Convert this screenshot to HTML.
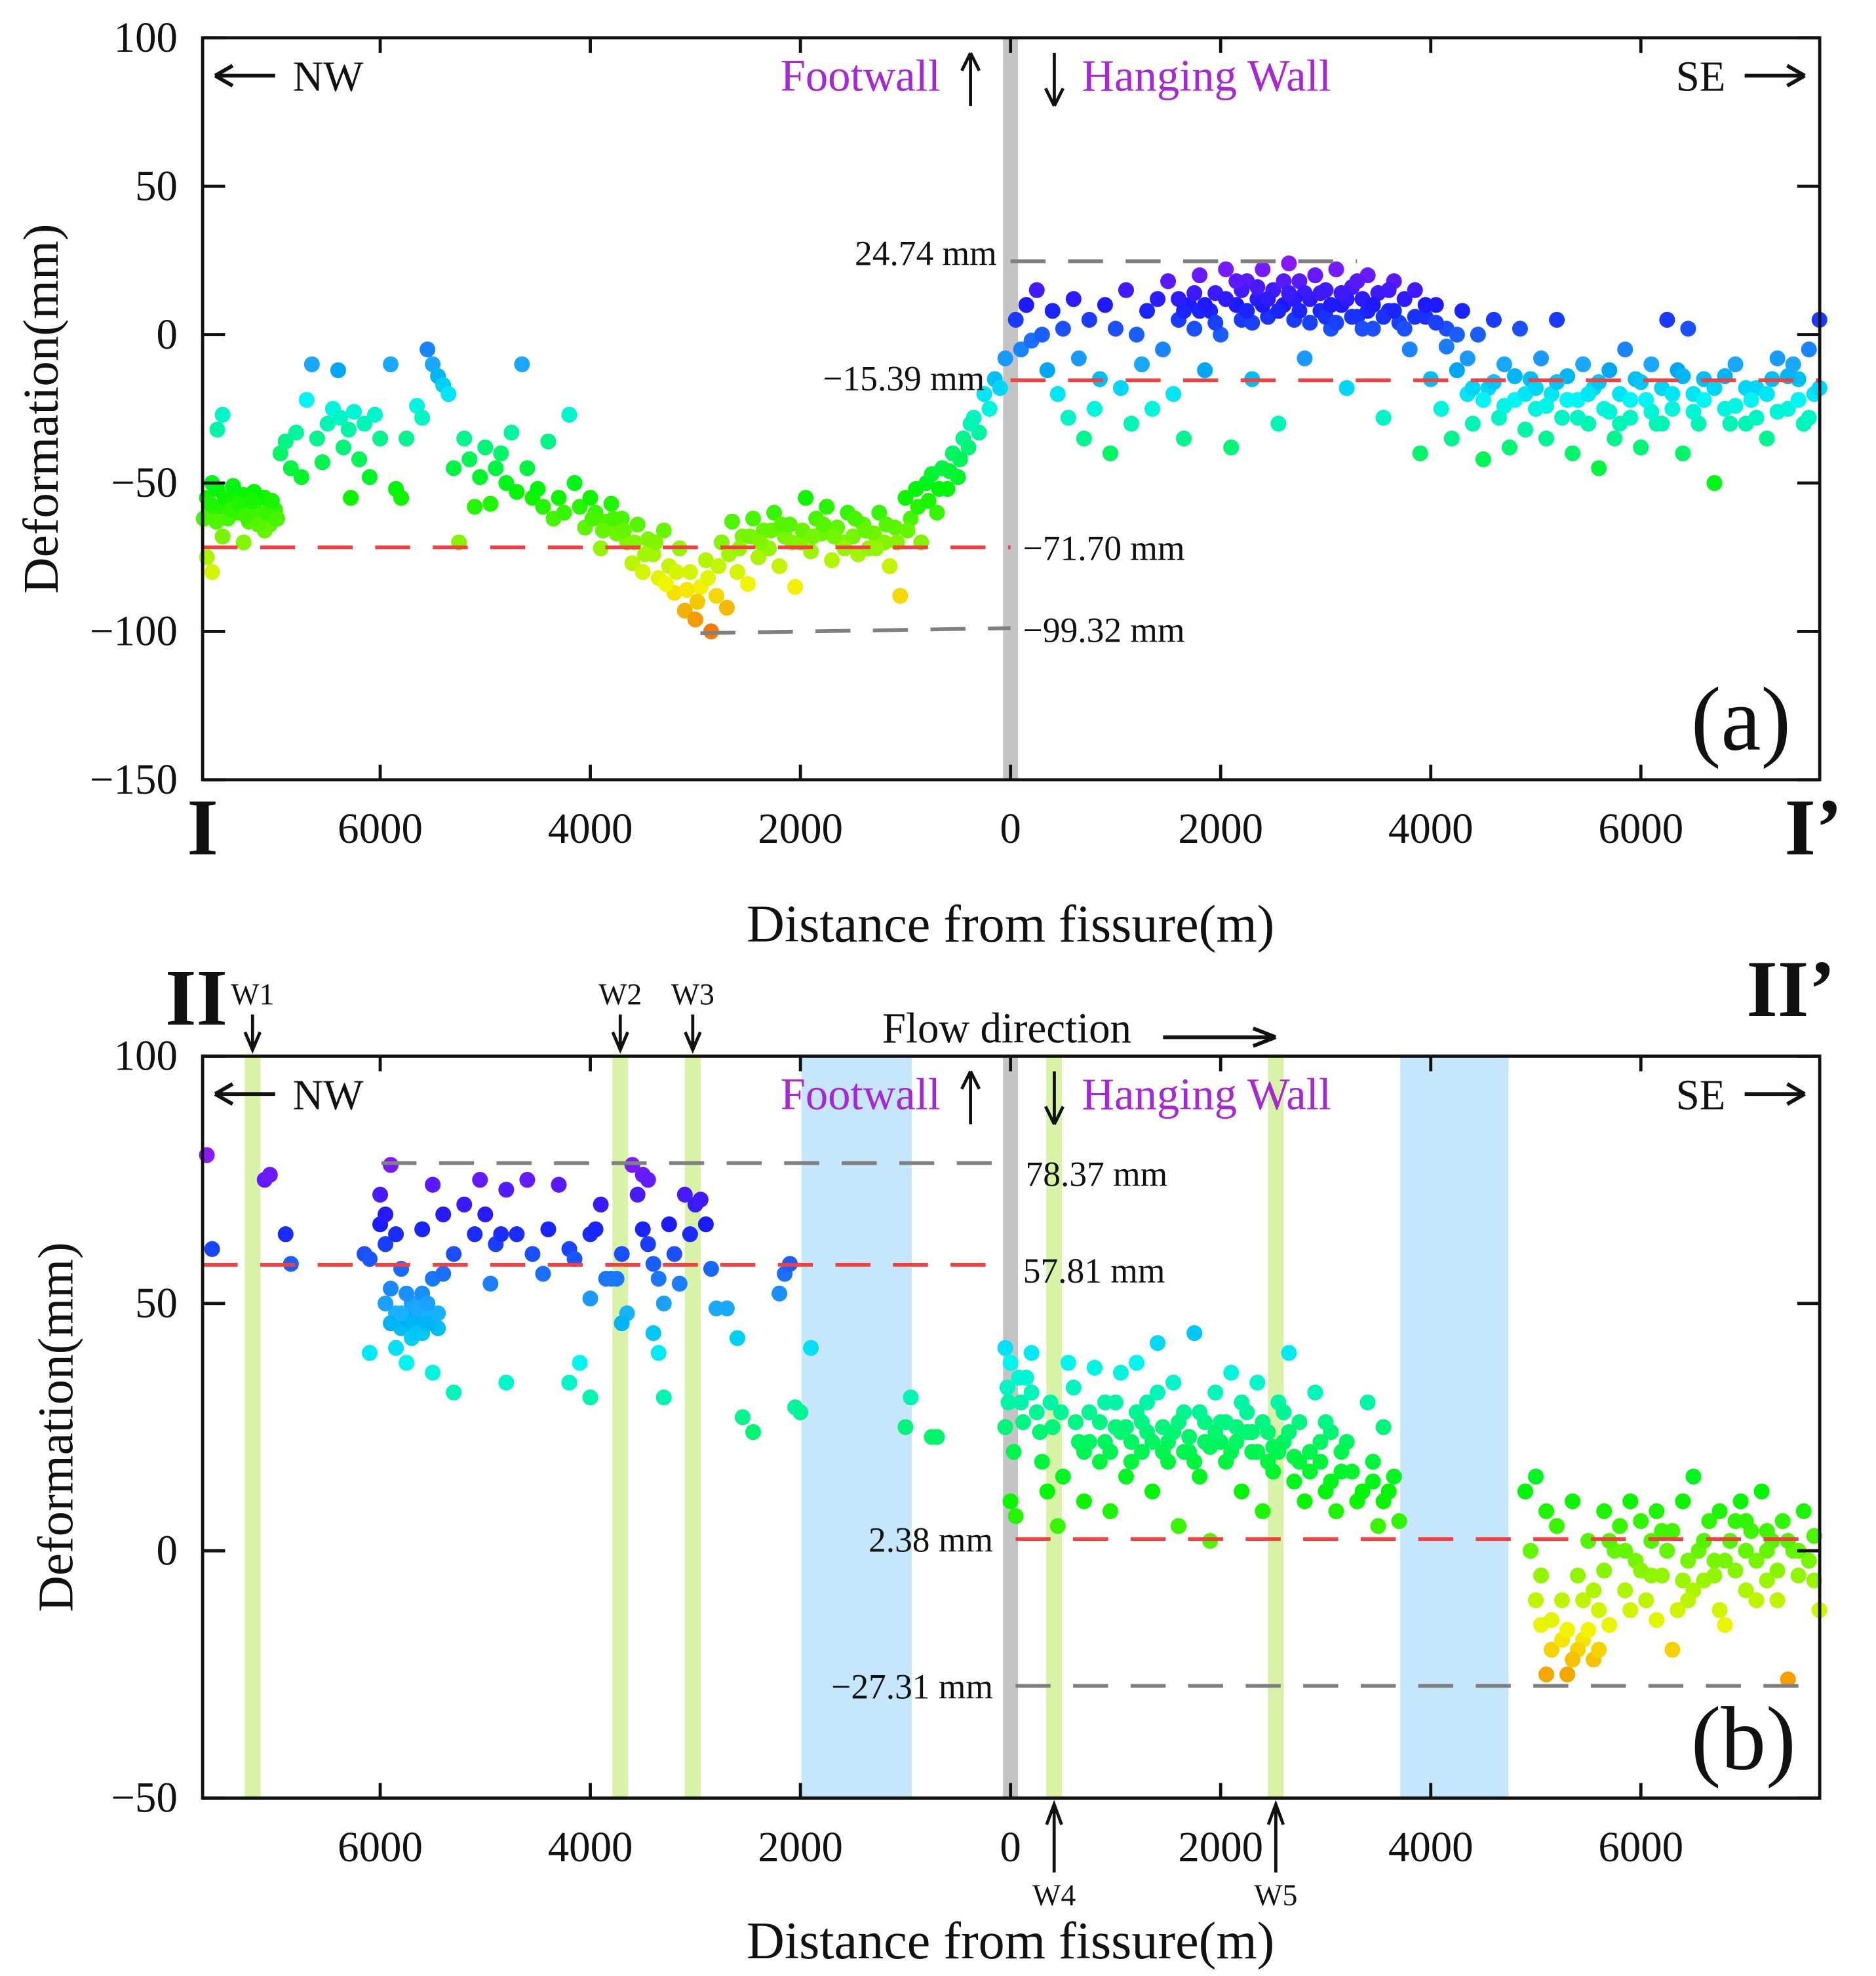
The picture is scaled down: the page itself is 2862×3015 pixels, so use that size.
<!DOCTYPE html>
<html><head><meta charset="utf-8"><style>
html,body{margin:0;padding:0;background:#fff}
svg{display:block}
text{font-family:"Liberation Serif",serif;fill:#111}
</style></head><body>
<svg id="fig" width="2862" height="3015" viewBox="0 0 1500 1566" preserveAspectRatio="none" xmlns="http://www.w3.org/2000/svg">
<g id="pa"></g>
<g id="pb"></g>
</svg>
<script>
// ---- data ----
const xTicks = [-6000,-4000,-2000,0,2000,4000,6000];
const xTickLabels = ["6000","4000","2000","0","2000","4000","6000"];
const yTicksA = [100,50,0,-50,-100,-150];
const yTicksB = [100,50,0,-50];
const refA = {gray1:24.74, red1:-15.39, red2:-71.70, gray2:-99.32};
const refB = {gray1:78.37, red1:57.81, red2:2.38, gray2:-27.31};
const greenBands = [[-7290,-7140],[-3790,-3640],[-3100,-2950],[340,490],[2450,2600]];
const blueBands = [[-1990,-940],[3710,4740]];
const ptsA = [[-7650,-55],[-7600,-60],[-7550,-52],[-7500,-58],[-7450,-62],[-7400,-56],[-7350,-60],[-7300,-54],[-7250,-63],[-7200,-58],[-7150,-61],[-7100,-55],[-7050,-64],[-7000,-59],[-7600,-50],[-7400,-51],[-7200,-53],[-7650,-75],[-7600,-80],[-7500,-68],[-7300,-70],[-7500,-27],[-7550,-32],[-7100,-66],
[-6950,-40],[-6900,-36],[-6850,-45],[-6800,-33],[-6750,-48],[-6700,-22],[-6650,-10],[-6600,-35],[-6550,-43],[-6500,-30],[-6450,-25],[-6400,-12],[-6380,-28],[-6350,-38],[-6300,-32],[-6280,-55],[-6250,-26],[-6200,-42],[-6150,-30],[-6100,-48],[-6050,-27],[-6000,-35],[-5900,-10],[-5850,-52],[-5800,-55],[-5750,-35],[-5650,-24],[-5600,-28],[-5550,-5],[-5500,-10],[-5450,-14],[-5400,-17],[-5350,-20],[-5300,-45],[-5250,-70],[-5200,-35],[-5150,-42],[-5100,-58],[-5050,-48],[-5000,-38],[-4950,-57],[-4900,-45],[-4850,-40],[-4800,-50],[-4750,-33],[-4700,-53],[-4650,-10],[-4600,-45],[-4550,-55],[-4500,-52],[-4450,-58],[-4400,-36],[-4350,-62],[-4300,-55],[-4250,-60],[-4200,-27],[-4150,-50],[-4100,-58],[-4050,-65],[-4000,-55],[-3950,-60],[-3900,-72],[-3850,-63],[-3800,-57],[-3750,-67],[-3700,-62],[-3650,-70],[-3600,-77],[-3550,-64],[-3500,-80],[-3450,-69],[-3400,-74],[-3350,-82],[-3300,-66],[-3250,-78],[-3200,-87],[-3150,-72],[-3100,-93],[-3050,-80],[-3000,-96],[-2950,-85],[-2900,-76],[-2850,-100],[-2800,-88],[-2750,-70],[-2700,-92],[-2650,-63],[-2600,-80],[-2550,-68],[-2500,-84],[-2450,-62],[-2400,-75],[-2350,-66],[-2300,-72],[-2250,-60],[-2200,-78],[-2150,-68],[-2100,-64],[-2050,-85],[-2000,-70],[-1950,-55],[-1900,-73],[-1850,-62],[-1800,-67],[-1750,-58],[-1700,-76],[-1650,-65],[-1600,-70],[-1550,-60],[-1500,-68],[-1450,-74],[-1400,-64],[-1350,-72],[-1300,-67],[-1250,-60],[-1200,-70],[-1150,-78],[-1100,-65],[-1050,-88],[-1000,-55],[-950,-62],[-900,-52],[-850,-70],[-800,-50],[-750,-47],[-700,-60],[-650,-45],[-600,-52],[-550,-40],[-500,-48],[-450,-35],[-400,-38],[-350,-28],[-300,-33],[-250,-20],[-200,-25],[-150,-15],[-100,-18],[-50,-8],
[50,5],[100,-5],[150,10],[200,-2],[250,15],[300,0],[350,-12],[400,8],[450,-20],[500,2],[550,-28],[600,12],[650,-8],[700,-35],[750,5],[800,-25],[850,-15],[900,10],[950,-40],[1000,2],[1050,-18],[1100,15],[1150,-30],[1200,0],[1250,-10],[1300,8],[1350,-25],[1400,12],[1450,-5],[1500,18],[1550,-20],[1600,5],[1650,-35],[1700,10],[1750,2],[1800,20],[1850,-12],[1900,8],[1950,14],[2000,0],[2050,22],[2100,-38],[2150,10],[2200,5],[2250,18],[2300,-15],[2350,12],[2400,22],[2450,6],[2500,15],[2550,-30],[2600,10],[2650,24],[2700,5],[2750,18],[2800,-8],[2850,12],[2900,20],[2950,8],[3000,15],[3050,2],[3100,22],[3150,10],[3200,-18],[3250,16],[3300,6],[3350,12],[3400,20],[3450,2],[3500,14],[3550,-28],[3600,8],[3650,18],[3700,4],[3750,12],[3800,-5],[3850,15],[3900,-40],[3950,6],[4000,-15],[4050,10],[4100,-25],[4150,2],[4200,-35],[4250,-12],[4300,8],[4350,-20],[4400,-30],[4450,0],[4500,-42],[4550,-18],[4600,5],[4650,-28],[4700,-10],[4750,-38],[4800,-22],[4850,2],[4900,-32],[4950,-15],[5000,-25],[5050,-8],[5100,-35],[5150,-20],[5200,5],[5250,-28],[5300,-14],[5350,-40],[5400,-22],[5450,-10],[5500,-30],[5550,-18],[5600,-45],[5650,-25],[5700,-12],[5750,-35],[5800,-20],[5850,-5],[5900,-28],[5950,-15],[6000,-38],[6050,-22],[6100,-10],[6150,-30],[6200,-18],[6250,5],[6300,-25],[6350,-12],[6400,-40],[6450,2],[6500,-20],[6550,-30],[6600,-15],[6700,-50],[6800,-25],[6900,-10],[7000,-30],[7100,-18],[7200,-35],[7300,-8],[7400,-25],[7500,-15],[7550,-30],[7600,-5],[7650,-20],[7700,5],
[1600,12],[1800,8],[2200,15],[2400,10],[2600,18],[2800,14],[3000,6],[3200,12],[3400,8],[3600,15],[2300,4],[2700,12],[3100,4],[3300,18],
[-7680,-62],[-7620,-57],[-7560,-63],[-7480,-55],[-7420,-59],[-7340,-57],[-7280,-61],[-7220,-56],[-7160,-64],[-7080,-60],[-7030,-56],[-6980,-62],
[-3980,-62],[-3880,-66],[-3780,-62],[-3680,-66],[-3580,-70],[-3480,-74],[-3380,-70],[-3280,-84],[-3180,-80],[-3080,-86],[-2980,-90],[-2880,-82],[-2780,-78],[-2680,-74],[-2580,-72],[-2480,-68],[-2380,-70],[-2280,-66],[-2180,-64],[-2080,-70],[-1980,-66],[-1880,-68],[-1780,-64],[-1680,-68],[-1580,-72],[-1480,-62],[-1380,-66],[-1280,-72],[-1180,-64],[-1080,-70],[-980,-66],[-880,-58],[-780,-56],[-680,-52],[-580,-46],[-480,-42],[-380,-30],
[1650,8],[1750,14],[1850,10],[1950,4],[2050,12],[2150,18],[2250,8],[2350,16],[2450,12],[2550,8],[2650,14],[2750,8],[2850,4],[2950,14],[3050,10],[3150,14],[3250,6],[3350,2],[3450,10],[3550,6],[3650,8],[3750,2],[3850,6],[3950,10],[4050,4],[4150,-4],[4250,0],[4350,-8],
[4400,-18],[4500,-22],[4600,-16],[4700,-24],[4800,-14],[4900,-20],[5000,-18],[5100,-24],[5200,-16],[5300,-22],[5400,-28],[5500,-20],[5600,-16],[5700,-26],[5800,-30],[5900,-22],[6000,-16],[6100,-26],[6200,-30],[6300,-20],[6400,-14],[6500,-26],[6600,-22],[6700,-18],[6800,-14],[6900,-24],[7000,-18],[7100,-28],[7200,-20],[7300,-26],[7400,-14],[7500,-22],[7600,-28],[7700,-18],[7450,-10],[7250,-15],[7050,-22],[6850,-30]];
const ptsB = [[-7650,80],[-7600,61],[-7100,75],[-7050,76],[-6900,64],[-6850,58],[-6150,60],[-6100,59],[-6000,72],[-6000,66],[-5950,68],[-5950,62],[-5900,78],[-5900,53],[-5850,64],[-5800,57],[-5850,48],[-5800,45],[-5750,47],[-5700,43],[-5650,46],[-5600,44],[-5550,48],[-5500,46],[-5450,45],[-5700,50],[-5600,52],[-5500,55],[-5400,56],[-6100,40],[-5850,41],[-5750,38],[-5500,36],[-5300,32],[-5600,65],[-5500,74],[-5400,68],[-5300,60],[-5200,70],[-5100,64],[-5050,75],[-5000,68],[-4950,54],[-4900,62],[-4850,64],[-4800,73],[-4700,64],[-4600,75],[-4550,60],[-4450,56],[-4400,65],[-4300,74],[-4200,61],[-4150,59],[-4000,51],[-4000,64],[-3950,65],[-3900,70],[-3850,55],[-3800,55],[-3750,55],[-3700,60],[-3650,48],[-3600,78],[-3550,72],[-3500,76],[-3450,75],[-3500,65],[-3450,62],[-3400,58],[-3350,55],[-3300,50],[-3250,66],[-3200,60],[-3150,54],[-3100,72],[-3050,64],[-3000,70],[-2950,71],[-2900,66],[-2850,57],[-3700,46],[-3400,44],[-3350,40],[-3300,31],[-4100,38],[-4200,34],[-4800,34],[-4000,31],[-2800,49],[-2700,49],[-2600,43],[-2550,27],[-2450,24],[-2200,52],[-2150,56],[-2100,58],[-2050,29],[-2000,28],[-1900,41],[-950,31],[-1000,25],[-750,23],[-700,23],
[-5900,46],[-5800,48],[-5700,46],[-5650,44],[-5550,46],[-5450,48],[-5950,50],[-5750,52],[-5650,49],[-5550,50],
[-50,41],[0,38],[-50,25],[0,10],[50,7],[100,30],[150,35],[200,40],[250,28],[300,18],[350,12],[400,25],[450,5],[500,15],[550,38],[600,33],[650,22],[700,10],[750,28],[800,37],[850,18],[900,30],[950,8],[1000,25],[1050,36],[1100,15],[1150,22],[1200,38],[1250,20],[1300,30],[1350,12],[1400,42],[1450,25],[1500,18],[1550,34],[1600,5],[1650,28],[1700,20],[1750,44],[1800,15],[1850,26],[1900,2],[1950,32],[2000,22],[2050,18],[2100,36],[2150,25],[2200,12],[2250,28],[2300,20],[2350,34],[2400,8],[2450,24],[2500,16],[2550,30],[2600,22],[2650,40],[2700,14],[2750,26],[2800,10],[2850,20],[2900,32],[2950,18],[3000,12],[3050,24],[3100,8],[3150,16],[3200,22],[3300,10],[3400,30],[3450,18],[3500,5],[3550,25],[3600,12],[3650,15],[3700,6],
[700,20],[900,22],[1100,25],[1300,24],[1500,22],[1700,23],[1900,21],[2100,20],[2300,24],[2500,21],[2700,19],[1200,28],[1600,26],[2000,26],[2400,26],
[-30,33],[-20,30],[30,20],[80,35],[120,26],[200,32],[280,24],[380,30],[480,28],[620,26],[750,22],[850,26],[950,20],[1050,24],[1150,18],[1250,26],[1350,22],[1450,20],[1550,24],[1650,20],[1750,18],[1850,22],[1950,24],[2050,26],[2150,22],[2250,24],[2350,20],[2450,18],[2550,20],[2650,24],[2750,18],[2850,16],[2950,22],[3050,14],[3150,20],[3250,16],[3350,12],[3450,14],[3550,10],[1000,30],[1400,32],[1800,28],[2200,30],[2600,28],[3000,26],
[4900,12],[4950,0],[5000,15],[5050,-15],[5100,8],[5150,-20],[5200,5],[5250,-10],[5300,-25],[5350,10],[5400,-5],[5450,-18],[5500,2],[5550,-22],[5600,-12],[5650,8],[5700,-15],[5750,0],[5800,5],[5850,-8],[5900,10],[5950,-2],[6000,6],[6050,-10],[6100,2],[6150,8],[6200,-5],[6250,0],[6300,4],[6350,-12],[6400,10],[6450,-2],[6500,15],[6550,0],[6600,-6],[6650,6],[6700,-2],[6750,8],[6800,-15],[6850,2],[6900,-4],[6950,10],[7000,-8],[7050,4],[7100,-2],[7150,12],[7200,-6],[7250,2],[7300,-10],[7350,6],[7400,-26],[7450,0],[7500,-5],[7550,8],[7600,-2],[7650,3],[7700,-12],[5100,-25],[5250,-18],[5400,-20],[5600,-20],[5450,-10],[5050,-5],[6300,-20],[6500,-8],[6700,-5],[7000,0],[7200,0],[7400,2],[6900,6],[6100,-5],
[5000,-10],[5150,-14],[5300,-16],[5350,-22],[5500,-16],[5550,-8],[5650,-4],[5700,2],[5850,0],[6000,-4],[6200,4],[6400,-6],[6600,2],[6800,-2],[7000,6],[7200,4],[7300,-4],[7500,0],[7650,-6],[5900,-12],[6150,-14],[6450,-10],[6750,-12],[7100,-10]];

// ---- helpers ----
const NS="http://www.w3.org/2000/svg";
const L=162,R=1455,X0=808,PXM=0.084;
function xs(d){return X0+d*PXM;}
function mk(parent,tag,attrs,txt){const e=document.createElementNS(NS,tag);for(const k in attrs)e.setAttribute(k,attrs[k]);if(txt!==undefined)e.textContent=txt;parent.appendChild(e);return e;}
function color(v,lo,hi){let t=(v-lo)/(hi-lo);t=Math.max(0,Math.min(1,t));const h=30+t*240;return `hsl(${h},100%,${h>200?55:48}%)`;}

function panel(g,top,bot,ymax,ymin,yTicks,pts,ref,cLo,cHi,isB){
  const ys=v=>top+(ymax-v)*(bot-top)/(ymax-ymin);
  if(isB){
    greenBands.forEach(b=>{const r=mk(g,'rect',{x:xs(b[0]),y:top,width:xs(b[1])-xs(b[0]),height:bot-top,fill:'#d8f2a8'});
      
      });
    blueBands.forEach(b=>{const r=mk(g,'rect',{x:xs(b[0]),y:top,width:xs(b[1])-xs(b[0]),height:bot-top,fill:'#c6e6fb'});
      
      });
  }
  const fb=mk(g,'rect',{x:802,y:top,width:12,height:bot-top,fill:'#c4c4c4'});
  
  
  pts.forEach(p=>{const c=mk(g,'circle',{cx:xs(p[0]),cy:ys(p[1]),r:6.3,fill:color(p[1],cLo,cHi)});
    
    });
  function dash(x1,x2,y1,y2,col,name){const l=mk(g,'line',{x1:x1,x2:x2,y1:y1,y2:y2,stroke:col,'stroke-width':3,'stroke-dasharray':'28 18'});
    
    }
  if(!isB){
    dash(X0,1085,ys(ref.gray1),ys(ref.gray1),'#808080','max-line');
    dash(X0,R,ys(ref.red1),ys(ref.red1),'#f04040','mean-line-hanging');
    dash(L,X0,ys(ref.red2),ys(ref.red2),'#f04040','mean-line-foot');
    dash(560,X0,ys(ref.gray2)+3,ys(ref.gray2)-1,'#808080','min-line');
  } else {
    dash(305,800,ys(ref.gray1),ys(ref.gray1),'#808080','max-line');
    dash(L,800,ys(ref.red1),ys(ref.red1),'#f04040','mean-line-foot');
    dash(812,R,ys(ref.red2),ys(ref.red2),'#f04040','mean-line-hanging');
    dash(812,R,ys(ref.gray2),ys(ref.gray2),'#808080','min-line');
  }
  const box=mk(g,'rect',{x:L,y:top,width:R-L,height:bot-top,fill:'none',stroke:'#111','stroke-width':2.5});
  
  
  yTicks.forEach(v=>{const y=ys(v);
    mk(g,'line',{x1:L,x2:L+18,y1:y,y2:y,stroke:'#111','stroke-width':2.5});
    mk(g,'line',{x1:R-18,x2:R,y1:y,y2:y,stroke:'#111','stroke-width':2.5});
    const t=mk(g,'text',{x:142,y:y+11,'text-anchor':'end','font-size':34},String(v).replace('-','\u2212'));
    
    });
  xTicks.forEach((d,i)=>{const x=xs(d);
    mk(g,'line',{x1:x,x2:x,y1:top,y2:top+12,stroke:'#111','stroke-width':2.5});
    mk(g,'line',{x1:x,x2:x,y1:bot-12,y2:bot,stroke:'#111','stroke-width':2.5});
    const t=mk(g,'text',{x:x,y:bot+50,'text-anchor':'middle','font-size':34},xTickLabels[i]);
    
    });
  const yt=mk(g,'text',{x:0,y:0,'text-anchor':'middle','font-size':40,transform:`translate(${isB?58:46},${(top+bot)/2}) rotate(-90)`},'Deformation(mm)');
  
  
  const ty=top+42;
  mk(g,'path',{d:`M172 ${ty-12} L220 ${ty-12} M172 ${ty-12} l14 -8 M172 ${ty-12} l14 8`,stroke:'#111','stroke-width':3,fill:'none'});
  mk(g,'text',{x:234,y:ty,'font-size':34},'NW');
  mk(g,'text',{x:1340,y:ty,'font-size':34},'SE');
  mk(g,'path',{d:`M1395 ${ty-12} L1443 ${ty-12} M1443 ${ty-12} l-14 -8 M1443 ${ty-12} l-14 8`,stroke:'#111','stroke-width':3,fill:'none'});
  const fw=mk(g,'text',{x:752,y:ty,'text-anchor':'end','font-size':36,style:'fill:#a726d8'},'Footwall');
  
  
  mk(g,'path',{d:`M776 ${ty+12} L776 ${ty-30} M776 ${ty-30} l-7 14 M776 ${ty-30} l7 14`,stroke:'#111','stroke-width':2.5,fill:'none'});
  mk(g,'path',{d:`M843 ${ty-30} L843 ${ty+12} M843 ${ty+12} l-7 -14 M843 ${ty+12} l7 -14`,stroke:'#111','stroke-width':2.5,fill:'none'});
  const hw=mk(g,'text',{x:865,y:ty,'font-size':36,style:'fill:#a726d8'},'Hanging Wall');
  
  
  return ys;
}

const pa=document.getElementById('pa'), pb=document.getElementById('pb');
const ysA=panel(pa,30,618,100,-150,yTicksA,ptsA,refA,-100,25,false);
const ysB=panel(pb,837,1425,100,-50,yTicksB,ptsB,refB,-30,80,true);
function lab(g,x,y,s,txt,name,anchor,weight){const t=mk(g,'text',{x:x,y:y,'font-size':s,'text-anchor':anchor||'start','font-weight':weight||'normal'},txt);
  
  return t;}
lab(pa,797,ysA(refA.gray1)+3,28,'24.74 mm','max-value-label','end');
lab(pa,658,ysA(refA.red1)+8,28,'\u221215.39 mm','mean-hanging-label');
lab(pa,818,ysA(refA.red2)+10,28,'\u221271.70 mm','mean-foot-label');
lab(pa,818,ysA(refA.gray2)+10,28,'\u221299.32 mm','min-value-label');
lab(pa,1392,594,72,'(a)','panel-a-label','middle');
lab(pa,162,677,64,'I','profile-start-label','middle','bold');
lab(pa,1450,677,64,'I\u2019','profile-end-label','middle','bold');
lab(pa,808,746,42,'Distance from fissure(m)','x-axis-title','middle');
lab(pb,820,ysB(refB.gray1)+18,28,'78.37 mm','max-value-label');
lab(pb,818,ysB(refB.red1)+14,28,'57.81 mm','mean-foot-label');
lab(pb,794,ysB(refB.red2)+10,28,'2.38 mm','mean-hanging-label','end');
lab(pb,794,ysB(refB.gray2)+10,28,'\u221227.31 mm','min-value-label','end');
lab(pb,1394,1402,72,'(b)','panel-b-label','middle');
lab(pb,157,812,64,'II','profile-start-label','middle','bold');
lab(pb,1432,805,64,'II\u2019','profile-end-label','middle','bold');
lab(pb,808,1552,42,'Distance from fissure(m)','x-axis-title','middle');
lab(pb,805,826,34,'Flow direction','flow-direction-label','middle');
mk(pb,'path',{d:'M930 822 L1020 822 M1020 822 l-18 -7 M1020 822 l-18 7',stroke:'#111','stroke-width':3,fill:'#111'});
[['W1',-7215],['W2',-3715],['W3',-3025]].forEach(w=>{const x=xs(w[1]);
  lab(pb,x,796,24,w[0],'well-label','middle');
  mk(pb,'path',{d:`M${x} 804 L${x} 830 M${x-6} 818 L${x} 832 L${x+6} 818`,stroke:'#111','stroke-width':2.5,fill:'none'});});
[['W4',415],['W5',2525]].forEach(w=>{const x=xs(w[1]);
  lab(pb,x,1510,24,w[0],'well-label','middle');
  mk(pb,'path',{d:`M${x} 1484 L${x} 1432 M${x-6} 1446 L${x} 1430 L${x+6} 1446`,stroke:'#111','stroke-width':2.5,fill:'none'});});
</script>
</body></html>
